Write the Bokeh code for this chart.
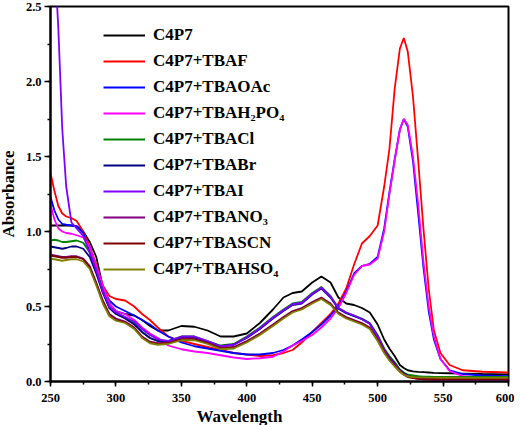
from bokeh.plotting import figure
from bokeh.models import Range1d, SingleIntervalTicker, Legend, LegendItem, PrintfTickFormatter, Title
from bokeh.embed import file_html
from bokeh.resources import INLINE

wavelength = [250, 253, 256, 259, 262, 266, 270, 275, 280, 285,
              290, 295, 300, 307, 314, 320, 326, 332, 340, 350,
              360, 370, 380, 390, 400, 410, 420, 428, 435, 442,
              450, 457, 464, 470, 476, 482, 488, 494, 500, 505,
              509, 513, 517, 520, 523, 527, 531, 535, 539, 543,
              548, 555, 565, 580, 600]

c4p7 = [1.04, 1.04, 1.04, 1.04, 1.04, 1.04, 1.035, 1.00, 0.93, 0.83,
        0.63, 0.52, 0.47, 0.45, 0.44, 0.41, 0.37, 0.34, 0.34, 0.37,
        0.365, 0.34, 0.30, 0.30, 0.32, 0.39, 0.48, 0.56, 0.59, 0.60,
        0.66, 0.70, 0.66, 0.56, 0.52, 0.51, 0.49, 0.46, 0.38, 0.28,
        0.22, 0.17, 0.11, 0.09, 0.075, 0.068, 0.064, 0.062, 0.06, 0.058,
        0.056, 0.055, 0.053, 0.05, 0.048]
tbaf = [1.39, 1.27, 1.17, 1.12, 1.10, 1.09, 1.07, 1.00, 0.90, 0.78,
        0.64, 0.57, 0.55, 0.54, 0.50, 0.45, 0.41, 0.36, 0.30, 0.27,
        0.25, 0.23, 0.21, 0.19, 0.18, 0.17, 0.175, 0.19, 0.21, 0.26,
        0.33, 0.39, 0.45, 0.52, 0.62, 0.78, 0.92, 0.97, 1.04, 1.30,
        1.55, 1.95, 2.22, 2.29, 2.20, 1.90, 1.47, 1.02, 0.62, 0.34,
        0.19, 0.11, 0.075, 0.065, 0.06]
tbaoac = [1.23, 1.14, 1.08, 1.05, 1.045, 1.04, 1.035, 0.99, 0.86, 0.73,
          0.62, 0.54, 0.50, 0.47, 0.44, 0.41, 0.38, 0.34, 0.30, 0.26,
          0.235, 0.22, 0.205, 0.19, 0.18, 0.18, 0.19, 0.21, 0.24, 0.28,
          0.33, 0.38, 0.44, 0.50, 0.60, 0.72, 0.77, 0.785, 0.83, 1.02,
          1.26, 1.48, 1.68, 1.75, 1.70, 1.47, 1.12, 0.76, 0.47, 0.28,
          0.15, 0.075, 0.05, 0.04, 0.035]
tbah2po4 = [1.18, 1.08, 1.02, 1.00, 0.99, 0.985, 0.975, 0.96, 0.90, 0.77,
            0.64, 0.52, 0.47, 0.45, 0.41, 0.36, 0.32, 0.29, 0.24, 0.215,
            0.20, 0.19, 0.175, 0.16, 0.15, 0.155, 0.165, 0.20, 0.24, 0.27,
            0.31, 0.36, 0.42, 0.49, 0.59, 0.71, 0.77, 0.78, 0.82, 1.00,
            1.25, 1.47, 1.68, 1.75, 1.71, 1.50, 1.18, 0.80, 0.50, 0.30,
            0.15, 0.07, 0.035, 0.025, 0.02]
tbacl = [0.94, 0.945, 0.94, 0.93, 0.93, 0.935, 0.94, 0.925, 0.86, 0.74,
         0.60, 0.49, 0.46, 0.43, 0.39, 0.33, 0.29, 0.27, 0.27, 0.30,
         0.30, 0.27, 0.24, 0.25, 0.30, 0.36, 0.43, 0.48, 0.52, 0.53,
         0.59, 0.63, 0.57, 0.49, 0.46, 0.44, 0.42, 0.39, 0.31, 0.22,
         0.17, 0.13, 0.08, 0.06, 0.045, 0.04, 0.035, 0.033, 0.032, 0.031,
         0.03, 0.03, 0.03, 0.03, 0.03]
tbabr = [0.90, 0.895, 0.89, 0.885, 0.89, 0.90, 0.90, 0.885, 0.83, 0.72,
         0.59, 0.49, 0.45, 0.42, 0.38, 0.33, 0.29, 0.27, 0.27, 0.29,
         0.29, 0.265, 0.235, 0.245, 0.29, 0.35, 0.42, 0.47, 0.51, 0.52,
         0.58, 0.62, 0.56, 0.485, 0.455, 0.435, 0.415, 0.385, 0.30, 0.21,
         0.16, 0.12, 0.075, 0.055, 0.04, 0.03, 0.025, 0.022, 0.02, 0.02,
         0.02, 0.02, 0.02, 0.02, 0.02]
tbai = [3.3, 2.85, 2.35, 1.68, 1.30, 1.06, 1.02, 0.97, 0.86, 0.74,
        0.60, 0.50, 0.46, 0.43, 0.40, 0.35, 0.31, 0.28, 0.27, 0.30,
        0.30, 0.27, 0.235, 0.245, 0.295, 0.355, 0.425, 0.475, 0.515, 0.525,
        0.585, 0.625, 0.565, 0.49, 0.46, 0.44, 0.415, 0.385, 0.30, 0.21,
        0.155, 0.115, 0.07, 0.05, 0.035, 0.025, 0.02, 0.015, 0.014, 0.013,
        0.012, 0.012, 0.012, 0.012, 0.012]
tbano3 = [0.845, 0.84, 0.835, 0.83, 0.83, 0.835, 0.835, 0.82, 0.77, 0.66,
          0.54, 0.45, 0.42, 0.40, 0.36, 0.30, 0.265, 0.255, 0.26, 0.285,
          0.285, 0.26, 0.225, 0.23, 0.27, 0.32, 0.38, 0.43, 0.47, 0.49,
          0.53, 0.56, 0.52, 0.46, 0.43, 0.41, 0.39, 0.36, 0.28, 0.20,
          0.15, 0.11, 0.07, 0.05, 0.035, 0.025, 0.02, 0.018, 0.016, 0.015,
          0.015, 0.015, 0.015, 0.015, 0.015]
tbascn = [0.84, 0.835, 0.83, 0.825, 0.825, 0.83, 0.83, 0.815, 0.76, 0.65,
          0.53, 0.44, 0.41, 0.395, 0.355, 0.295, 0.26, 0.25, 0.255, 0.28,
          0.28, 0.255, 0.22, 0.225, 0.265, 0.315, 0.375, 0.425, 0.465, 0.485,
          0.525, 0.555, 0.515, 0.455, 0.425, 0.405, 0.385, 0.355, 0.275, 0.195,
          0.145, 0.105, 0.065, 0.045, 0.03, 0.022, 0.018, 0.016, 0.015, 0.015,
          0.015, 0.015, 0.015, 0.015, 0.015]
tbahso4 = [0.82, 0.815, 0.81, 0.805, 0.81, 0.815, 0.815, 0.80, 0.75, 0.64,
           0.52, 0.435, 0.405, 0.39, 0.35, 0.29, 0.255, 0.245, 0.25, 0.275,
           0.275, 0.25, 0.215, 0.22, 0.26, 0.31, 0.37, 0.42, 0.46, 0.48,
           0.52, 0.55, 0.51, 0.45, 0.42, 0.40, 0.38, 0.35, 0.27, 0.19,
           0.14, 0.10, 0.065, 0.045, 0.035, 0.03, 0.028, 0.027, 0.026, 0.026,
           0.025, 0.025, 0.025, 0.025, 0.025]

labels = ["C4P7", "C4P7+TBAF", "C4P7+TBAOAc", "C4P7+TBAH\u2082PO\u2084", "C4P7+TBACl",
          "C4P7+TBABr", "C4P7+TBAI", "C4P7+TBANO\u2083", "C4P7+TBASCN", "C4P7+TBAHSO\u2084"]
values = [c4p7, tbaf, tbaoac, tbah2po4, tbacl, tbabr, tbai, tbano3, tbascn, tbahso4]
colors = ["#000000", "#FF0000", "#0000FF", "#FF00FF", "#008000",
          "#000080", "#8000FF", "#800080", "#800000", "#808000"]

x_ticks_interval = 50
y_ticks_interval = 0.5

FONT = "Liberation Serif"

p = figure(width=519, height=425, x_range=Range1d(250, 600), y_range=Range1d(0, 2.5),
           output_backend="svg", toolbar_location=None,
           min_border_left=51, min_border_right=6, min_border_top=6, min_border_bottom=10)
p.styles = {"margin-left": "-5px"}
p.xgrid.visible = False
p.ygrid.visible = False
p.outline_line_color = "black"
p.outline_line_width = 2
p.outline_line_alpha = 1
p.background_fill_color = "white"
p.border_fill_color = "white"

for ax in (p.xaxis[0], p.yaxis[0]):
    ax.axis_line_width = 2
    ax.axis_line_color = "black"
    ax.major_tick_in = 0
    ax.minor_tick_in = 0
    ax.minor_tick_out = 3
    ax.major_tick_line_width = 1.5
    ax.minor_tick_line_width = 1.5
    ax.major_tick_line_color = "black"
    ax.minor_tick_line_color = "black"
    ax.major_label_text_font = FONT
    ax.major_label_text_font_size = "12.5px"
    ax.major_label_text_font_style = "bold"
    ax.major_label_text_color = "black"

p.xaxis.major_tick_out = 5
p.yaxis.major_tick_out = 6
p.xaxis.ticker = SingleIntervalTicker(interval=x_ticks_interval, num_minor_ticks=2)
p.yaxis.ticker = SingleIntervalTicker(interval=y_ticks_interval, num_minor_ticks=2)
p.yaxis.formatter = PrintfTickFormatter(format="%.1f")
p.xaxis.major_label_standoff = 7
p.yaxis.major_label_standoff = 3

p.yaxis.axis_label = "Absorbance"
p.yaxis.axis_label_text_font = FONT
p.yaxis.axis_label_text_font_size = "17px"
p.yaxis.axis_label_text_font_style = "bold"
p.yaxis.axis_label_text_color = "black"
p.yaxis.axis_label_standoff = 5

xtitle = Title(text="Wavelength", align="left", offset=146, standoff=0,
               text_font=FONT, text_font_size="17px", text_font_style="bold", text_color="black")
p.add_layout(xtitle, "below")

items = []
for lab, vals, col in zip(labels, values, colors):
    r = p.line(wavelength, vals, line_color=col, line_width=1.8)
    items.append(LegendItem(label=lab, renderers=[r]))

legend = Legend(items=items, location=(53, 102), padding=0, spacing=6,
                glyph_width=42, glyph_height=20, label_height=20, label_standoff=8,
                label_text_font=FONT, label_text_font_size="17px", label_text_font_style="bold",
                label_text_color="black", border_line_alpha=0, background_fill_alpha=0)
p.add_layout(legend)

open("out.html", "w").write(file_html(p, INLINE))
